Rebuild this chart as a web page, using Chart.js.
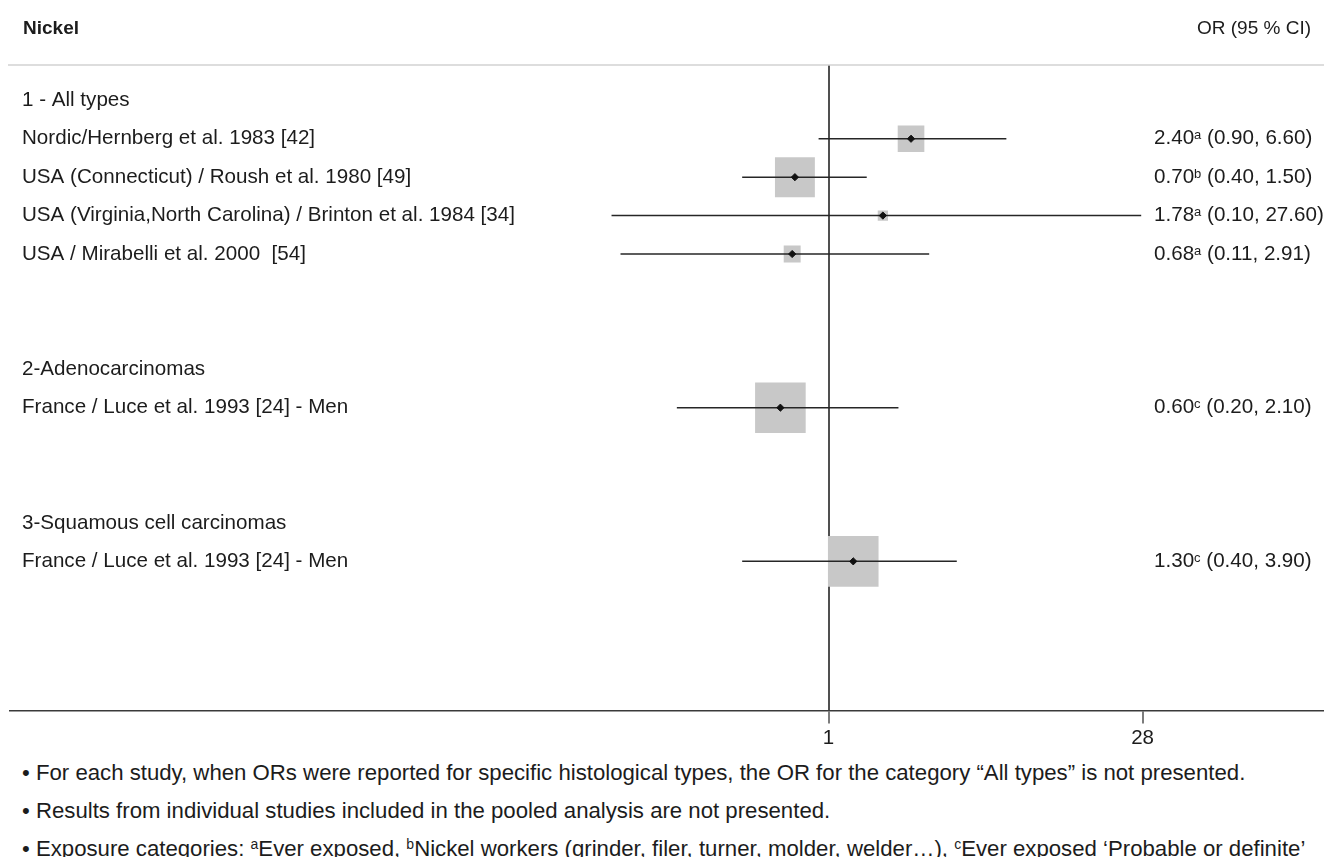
<!DOCTYPE html>
<html>
<head>
<meta charset="utf-8">
<title>Nickel – forest plot</title>
<script src="https://cdn.jsdelivr.net/npm/chart.js@4.4.1/dist/chart.umd.min.js"></script>
<style>
  html, body { margin: 0; padding: 0; background: #ffffff; }
  #page { position: relative; width: 1336px; height: 857px; overflow: hidden;
          font-family: "Liberation Sans", Arial, Helvetica, sans-serif; color: #1c1c1c; }
  #plot { position: absolute; left: 0; top: 0; }
  .head { position: absolute; top: 17px; font-size: 19px; line-height: 22px; white-space: nowrap; }
  .note { position: absolute; left: 22px; font-size: 22.2px; line-height: 24px; white-space: nowrap; }
  .note sup { font-size: 14px; vertical-align: 7px; line-height: 0; }
</style>
</head>
<body>
<div id="page">
  <canvas id="plot" width="1336" height="760"></canvas>
  <div class="head" style="left:23px;font-weight:bold;">Nickel</div>
  <div class="head" style="right:25px;">OR (95 % CI)</div>
  <div class="note" style="top:761px;">• For each study, when ORs were reported for specific histological types, the OR for the category “All types” is not presented.</div>
  <div class="note" style="top:799px;">• Results from individual studies included in the pooled analysis are not presented.</div>
  <div class="note" style="top:837px;">• Exposure categories: <sup>a</sup>Ever exposed, <sup>b</sup>Nickel workers (grinder, filer, turner, molder, welder…), <sup>c</sup>Ever exposed ‘Probable or definite’</div>
</div>
<script>
// Subgroup headings and the row each one sits on
const groupLabels = ['1 - All types', '2-Adenocarcinomas', '3-Squamous cell carcinomas'];
const groupRows = [0, 7, 11];

// Individual studies
const studyLabels = [
  'Nordic/Hernberg et al. 1983 [42]',
  'USA (Connecticut) / Roush et al. 1980 [49]',
  'USA (Virginia,North Carolina) / Brinton et al. 1984 [34]',
  'USA / Mirabelli et al. 2000  [54]',
  'France / Luce et al. 1993 [24] - Men',
  'France / Luce et al. 1993 [24] - Men'
];
const studyRows = [1, 2, 3, 4, 8, 12];
const oddsRatios = [2.40, 0.70, 1.78, 0.68, 0.60, 1.30];
const ciLower = [0.90, 0.40, 0.10, 0.11, 0.20, 0.40];
const ciUpper = [6.60, 1.50, 27.60, 2.91, 2.10, 3.90];
const exposureCodes = ['a', 'b', 'a', 'a', 'c', 'c'];
// relative study weights (box area)
const studyWeights = [27.7, 62.2, 4.1, 11.2, 100, 100];

// x-axis tick values
const xTickValues = [1, 28];

const FONT = '"Liberation Sans", Arial, Helvetica, sans-serif';
const TEXT = '#1c1c1c';
const BOX_SIDE_MAX = 50.6;

const boxRadii = studyWeights.map(w => BOX_SIDE_MAX * Math.sqrt(w / 100) / Math.SQRT2);

const datasets = [];
datasets.push({
  label: 'OR',
  data: studyRows.map((r, i) => ({ x: oddsRatios[i], y: r })),
  pointStyle: 'rectRot',
  pointRadius: 3.6,
  pointBackgroundColor: '#111',
  pointBorderColor: '#111',
  pointBorderWidth: 1,
  order: 0
});
studyRows.forEach((r, i) => {
  datasets.push({
    label: 'CI ' + (i + 1),
    data: [{ x: ciLower[i], y: r }, { x: ciUpper[i], y: r }],
    showLine: true,
    borderColor: '#262626',
    borderWidth: 1.5,
    pointRadius: 0,
    order: 1
  });
});
datasets.push({
  label: 'Weight',
  data: studyRows.map((r, i) => ({ x: oddsRatios[i], y: r })),
  pointStyle: 'rect',
  pointRadius: boxRadii,
  pointBackgroundColor: '#c8c8c8',
  pointBorderWidth: 0,
  pointBorderColor: 'rgba(0,0,0,0)',
  order: 2
});

// Row labels, the OR column and the header rule
const tablePlugin = {
  id: 'forestTable',
  afterDraw(chart) {
    const { ctx, chartArea, scales } = chart;
    const y = scales.y;
    ctx.save();
    ctx.strokeStyle = '#d2d2d2';
    ctx.lineWidth = 1.5;
    ctx.beginPath();
    ctx.moveTo(8, chartArea.top);
    ctx.lineTo(chartArea.right + 1, chartArea.top);
    ctx.stroke();

    const normal = '20.6px ' + FONT;
    const small = '13px ' + FONT;
    ctx.fillStyle = TEXT;
    ctx.textBaseline = 'middle';
    ctx.textAlign = 'left';
    ctx.font = normal;
    groupLabels.forEach((g, i) => ctx.fillText(g, 22, y.getPixelForValue(groupRows[i])));
    studyLabels.forEach((s, i) => ctx.fillText(s, 22, y.getPixelForValue(studyRows[i])));

    const colX = 1154;
    studyRows.forEach((r, i) => {
      const yy = y.getPixelForValue(r);
      let x = colX;
      const est = oddsRatios[i].toFixed(2);
      ctx.font = normal;
      ctx.fillText(est, x, yy);
      x += ctx.measureText(est).width;
      ctx.font = small;
      ctx.fillText(exposureCodes[i], x, yy - 3);
      x += ctx.measureText(exposureCodes[i]).width;
      ctx.font = normal;
      ctx.fillText(' (' + ciLower[i].toFixed(2) + ', ' + ciUpper[i].toFixed(2) + ')', x, yy);
    });
    ctx.restore();
  }
};

new Chart(document.getElementById('plot'), {
  type: 'scatter',
  data: { datasets },
  options: {
    responsive: false,
    animation: false,
    events: [],
    layout: { autoPadding: false, padding: { left: 10, right: 13, top: 65, bottom: 6 } },
    plugins: { legend: { display: false }, tooltip: { enabled: false } },
    scales: {
      x: {
        type: 'logarithmic',
        min: 1.69e-4,
        max: 190,
        afterBuildTicks: axis => { axis.ticks = xTickValues.map(v => ({ value: v })); },
        afterFit: axis => { axis.paddingLeft = 0; axis.paddingRight = 0; },
        ticks: {
          callback: v => String(v),
          autoSkip: false,
          maxRotation: 0,
          padding: 3,
          color: TEXT,
          font: { family: FONT, size: 20.5 }
        },
        grid: {
          drawOnChartArea: true,
          color: c => (c.tick && c.tick.value === 1) ? '#505050' : 'rgba(0,0,0,0)',
          lineWidth: 2,
          tickColor: '#505050',
          tickLength: 13,
          tickWidth: 1.5
        },
        border: { display: true, color: '#3a3a3a', width: 1.5 }
      },
      y: {
        type: 'linear',
        display: false,
        reverse: true,
        min: -0.92,
        max: 15.88
      }
    }
  },
  plugins: [tablePlugin]
});
</script>
</body>
</html>
